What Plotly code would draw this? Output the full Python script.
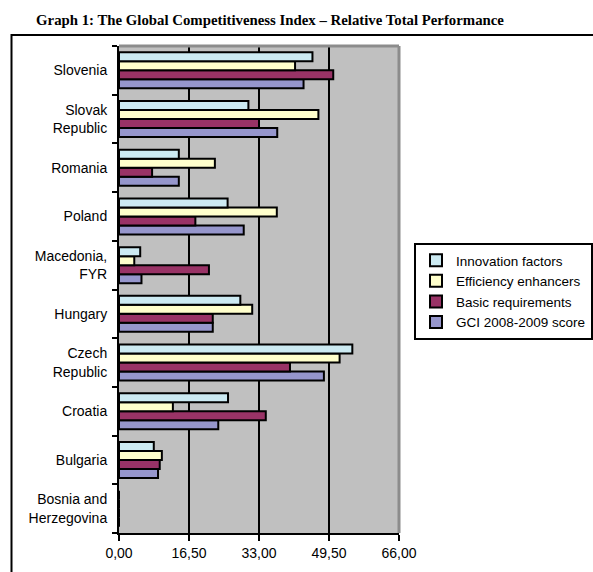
import plotly.graph_objects as go

countries = ["Bosnia and<br>Herzegovina", "Bulgaria", "Croatia", "Czech<br>Republic",
             "Hungary", "Macedonia,<br>FYR", "Poland", "Romania", "Slovak<br>Republic", "Slovenia"]

innovation = [0, 8.2, 25.7, 55.0, 28.6, 5.0, 25.6, 14.1, 30.5, 45.6]
efficiency = [0, 10.1, 12.7, 52.0, 31.4, 3.6, 37.2, 22.6, 47.0, 41.5]
basic = [0, 9.6, 34.6, 40.3, 22.1, 21.2, 18.0, 7.8, 33.0, 50.5]
gci = [0, 9.2, 23.4, 48.3, 22.1, 5.3, 29.4, 14.1, 37.3, 43.5]

tick_vals = [0, 16.5, 33, 49.5, 66]
tick_text = ["0,00", "16,50", "33,00", "49,50", "66,00"]

series = [
    ("GCI 2008-2009 score", gci, "#9696CC"),
    ("Basic requirements", basic, "#993366"),
    ("Efficiency enhancers", efficiency, "#FFFFCC"),
    ("Innovation factors", innovation, "#CCEAF2"),
]

fig = go.Figure()
for name, vals, color in series:
    fig.add_trace(go.Bar(
        y=countries, x=vals, name=name, orientation="h",
        marker=dict(color=color, line=dict(color="black", width=2)),
    ))

W, H = 593, 572
L, R, T, B = 119, 194, 46, 39
PW, PH = W - L - R, H - T - B

fig.update_layout(
    width=W, height=H, autosize=False,
    margin=dict(l=L, r=R, t=T, b=B, pad=0, autoexpand=False),
    paper_bgcolor="white", plot_bgcolor="#C0C0C0",
    barmode="group", bargap=0.26, bargroupgap=0,
    font=dict(family="Liberation Sans, Arial, sans-serif", size=14, color="black"),
    title=dict(
        text="<b>Graph 1: The Global Competitiveness Index – Relative Total Performance</b>",
        font=dict(family="Liberation Serif, Times New Roman, serif", size=14.8, color="black"),
        x=270 / W, xref="container", xanchor="center",
        y=1 - 20 / H, yref="container", yanchor="middle",
    ),
    legend=dict(
        traceorder="reversed",
        x=(414 - L) / PW, xanchor="left",
        y=(H - B - 243) / PH, yanchor="top",
        bordercolor="black", borderwidth=2, bgcolor="white",
        font=dict(size=13.5), itemwidth=30, tracegroupgap=0,
    ),
    xaxis=dict(
        range=[0, 66], tickvals=tick_vals, ticktext=tick_text,
        ticks="outside", ticklen=6, tickwidth=2, tickcolor="black",
        showline=True, linecolor="black", linewidth=1.5,
        showgrid=True, gridcolor="black", gridwidth=2, zeroline=False,
        fixedrange=True, automargin=False,
    ),
    yaxis=dict(
        type="category", categoryorder="array", categoryarray=countries,
        tickson="boundaries", ticks="outside", ticklen=5, tickwidth=2, tickcolor="black",
        showline=True, linecolor="black", linewidth=2, ticklabelstandoff=7,
        showgrid=False, automargin=False, fixedrange=True,
    ),
    shapes=[
        # grey top and right border of the plot area
        dict(type="line", xref="paper", yref="paper", x0=0, x1=1, y0=1, y1=1,
             line=dict(color="#8C8C8C", width=3), layer="above"),
        dict(type="line", xref="paper", yref="paper", x0=1, x1=1, y0=0, y1=1,
             line=dict(color="#8C8C8C", width=3), layer="above"),
        # outer frame
        dict(type="rect", xref="paper", yref="paper",
             x0=(11.5 - L) / PW, x1=2.0,
             y0=-0.5, y1=(H - B - 35) / PH,
             line=dict(color="black", width=2), fillcolor="rgba(0,0,0,0)", layer="below"),
    ],
)

fig.write_html("out.html")
